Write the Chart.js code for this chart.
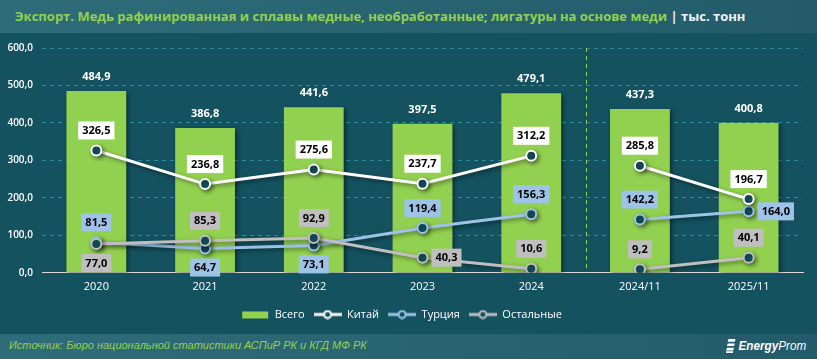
<!DOCTYPE html>
<html>
<head>
<meta charset="utf-8">
<script src="https://cdn.jsdelivr.net/npm/chart.js@4.4.1/dist/chart.umd.min.js"></script>
<style>
  body { margin: 0; width: 817px; height: 359px; overflow: hidden; background: #14525f; font-family: "Open Sans", sans-serif; }
  #head { height: 33px; background: linear-gradient(90deg, #2f6c7a, #235b6a); box-sizing: border-box; padding-left: 15px; line-height: 33px; font-size: 13px; font-weight: bold; color: #92d050; white-space: nowrap; }
  #head .unit { color: #f2f2f2; }
  #wrap { position: relative; height: 301px; }
  #foot { height: 25px; background: linear-gradient(90deg, #2f6c7a, #235b6a); position: relative; }
  #foot .src { position: absolute; left: 9px; top: 5px; font-family: "Liberation Sans", sans-serif; font-style: italic; font-size: 11px; color: #92d050; white-space: nowrap; }
  #foot .logo { position: absolute; right: 11px; top: 4px; color: #fff; font-style: italic; font-size: 13px; font-family: "Liberation Sans", sans-serif; display: flex; align-items: center; gap: 3px; transform: scaleX(0.9); transform-origin: right center; }
  #foot .logo b { font-weight: bold; }
</style>
</head>
<body>
<div id="head">Экспорт. Медь рафинированная и сплавы медные, необработанные; лигатуры на основе меди <span class="unit">| тыс. тонн</span></div>
<div id="wrap"><canvas id="chart" width="817" height="301"></canvas></div>
<div id="foot">
  <div class="src">Источник: Бюро национальной статистики АСПиР РК и КГД МФ РК</div>
  <div class="logo"><svg width="11" height="14" viewBox="0 0 12 16"><path d="M3 0h9l-1 3H2zM2 5h9l-1 3H1zM1 10h9l-1 3H0zM0 14h9l-.5 2H0z" fill="#fff"/></svg><span><b>Energy</b>Prom</span></div>
</div>
<script>
const years = ['2020', '2021', '2022', '2023', '2024', '2024/11', '2025/11'];
const total = [484.9, 386.8, 441.6, 397.5, 479.1, 437.3, 400.8];
const china = [326.5, 236.8, 275.6, 237.7, 312.2, 285.8, 196.7];
const turkey = [81.5, 64.7, 73.1, 119.4, 156.3, 142.2, 164.0];
const others = [77.0, 85.3, 92.9, 40.3, 10.6, 9.2, 40.1];

const bg = '#14525f';
const green = '#92d050';
const fmt = v => v.toFixed(1).replace('.', ',');

// where each line label sits relative to its point
const chinaPos = ['top', 'top', 'top', 'top', 'top', 'top', 'top'];
const turkeyPos = ['top', 'bottom', 'bottom', 'top', 'top', 'top', 'right'];
const othersPos = ['bottom', 'top', 'top', 'right', 'top', 'top', 'top'];

function legendIcon(kind, color) {
    const c = document.createElement('canvas');
    c.width = 28; c.height = 10;
    const x = c.getContext('2d');
    if (kind === 'bar') {
        x.fillStyle = color;
        x.fillRect(1, 2, 26, 7);
    } else {
        x.strokeStyle = color;
        x.lineWidth = 3;
        x.beginPath(); x.moveTo(0, 5); x.lineTo(28, 5); x.stroke();
        x.beginPath(); x.arc(14, 5, 3.5, 0, Math.PI * 2);
        x.fillStyle = bg; x.fill();
        x.lineWidth = 2; x.stroke();
    }
    return c;
}

const shadowPlugin = {
    id: 'shadow',
    beforeDatasetDraw(chart) {
        const ctx = chart.ctx;
        ctx.save();
        ctx.shadowColor = 'rgba(0,0,0,0.45)';
        ctx.shadowBlur = 4;
        ctx.shadowOffsetX = 2;
        ctx.shadowOffsetY = 2;
    },
    afterDatasetDraw(chart) {
        chart.ctx.restore();
    }
};

const dividerPlugin = {
    id: 'divider',
    beforeDatasetsDraw(chart) {
        const xs = chart.scales.x, ys = chart.scales.y, ctx = chart.ctx;
        const x = Math.round((xs.getPixelForValue(4) + xs.getPixelForValue(5)) / 2) + 0.5;
        ctx.save();
        ctx.strokeStyle = green;
        ctx.lineWidth = 1;
        ctx.setLineDash([4, 4]);
        ctx.beginPath();
        ctx.moveTo(x, ys.getPixelForValue(600));
        ctx.lineTo(x, ys.getPixelForValue(0));
        ctx.stroke();
        ctx.restore();
    }
};

const labelPlugin = {
    id: 'valueLabels',
    afterDatasetsDraw(chart) {
        const ctx = chart.ctx;
        ctx.save();
        ctx.font = 'bold 11px "Open Sans"';
        ctx.textAlign = 'center';
        ctx.textBaseline = 'middle';
        chart.data.datasets.forEach((ds, i) => {
            const meta = chart.getDatasetMeta(i);
            meta.data.forEach((el, j) => {
                const txt = fmt(ds.data[j]);
                if (ds.type === 'bar') {
                    ctx.fillStyle = '#ffffff';
                    ctx.fillText(txt, el.x, el.y - 14);
                    return;
                }
                const pos = ds.labelPos[j];
                const w = ctx.measureText(txt).width + 8, h = 18;
                let cx = el.x, cy = el.y;
                if (pos === 'top') cy -= 20;
                else if (pos === 'bottom') cy += 19;
                else cx += 9 + w / 2;
                ctx.fillStyle = ds.labelBg;
                ctx.fillRect(cx - w / 2, cy - h / 2, w, h);
                ctx.fillStyle = '#000';
                ctx.fillText(txt, cx, cy + 0.5);
            });
        });
        ctx.restore();
    }
};

const breakSeg = { borderColor: c => c.p0DataIndex === 4 ? 'transparent' : undefined };

function lineSet(label, data, color, pos, order) {
    return {
        type: 'line', label, data, order,
        borderColor: color, borderWidth: 3,
        pointRadius: 5, pointBorderWidth: 2,
        pointBackgroundColor: bg, pointBorderColor: color,
        labelBg: color, labelPos: pos,
        segment: breakSeg
    };
}

new Chart(document.getElementById('chart'), {
    data: {
        labels: years,
        datasets: [
            { type: 'bar', label: 'Всего', data: total, backgroundColor: green, order: 4,
              barPercentage: 0.55, categoryPercentage: 1 },
            lineSet('Китай', china, '#ffffff', chinaPos, 1),
            lineSet('Турция', turkey, '#9dc3e6', turkeyPos, 3),
            lineSet('Остальные', others, '#bfbfbf', othersPos, 2)
        ]
    },
    options: {
        responsive: false,
        animation: false,
        layout: { padding: { top: 15, right: 14, left: 0, bottom: 4 } },
        plugins: {
            tooltip: { enabled: false },
            legend: {
                position: 'bottom',
                labels: {
                    color: '#ffffff',
                    font: { family: 'Open Sans', size: 11 },
                    usePointStyle: true,
                    pointStyleWidth: 28,
                    boxHeight: 10,
                    padding: 9,
                    generateLabels(chart) {
                        return chart.data.datasets.map((ds, i) => ({
                            text: ds.label,
                            datasetIndex: i,
                            fontColor: '#ffffff',
                            pointStyle: legendIcon(ds.type, ds.type === 'bar' ? green : ds.borderColor),
                            lineWidth: 0,
                            strokeStyle: 'transparent',
                            fillStyle: 'transparent'
                        }));
                    }
                }
            }
        },
        scales: {
            x: {
                grid: { display: false, drawTicks: false },
                border: { color: '#d9d9d9', width: 1 },
                ticks: { color: '#ffffff', font: { family: 'Open Sans', size: 11 }, padding: 7 }
            },
            y: {
                min: 0, max: 600,
                afterFit(s) { s.width = 42; },
                grid: {
                    color: c => c.tick.value === 0 ? 'transparent' : '#2a8da0',
                    tickLength: 0
                },
                border: { display: false, dash: [4, 4] },
                ticks: { stepSize: 100, color: '#ffffff', font: { family: 'Open Sans', size: 10, weight: '600' }, padding: 9, callback: v => fmt(v) }
            }
        }
    },
    plugins: [shadowPlugin, dividerPlugin, labelPlugin]
});
</script>
</body>
</html>
